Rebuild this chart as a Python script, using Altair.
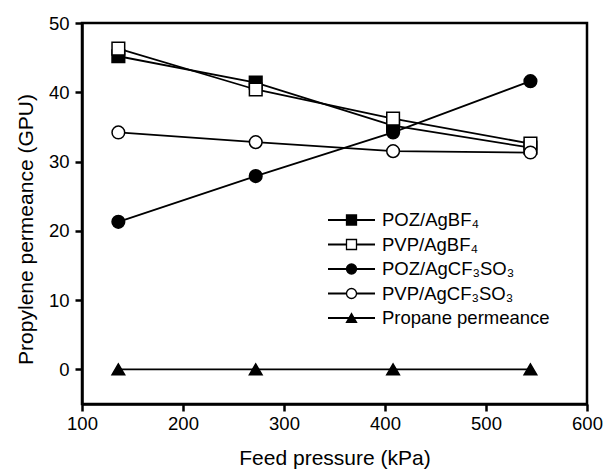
import altair as alt
import pandas as pd

# ---- data ----
pressure = [136, 272, 408, 544]
series_names = ["POZ/AgBF₄", "PVP/AgBF₄", "POZ/AgCF₃SO₃", "PVP/AgCF₃SO₃", "Propane permeance"]
poz_bf4 = [45.2, 41.4, 35.2, 32.0]
pvp_bf4 = [46.3, 40.4, 36.2, 32.6]
poz_cf3so3 = [21.3, 27.9, 34.2, 41.6]
pvp_cf3so3 = [34.2, 32.8, 31.5, 31.3]
propane = [0.0, 0.0, 0.0, 0.0]
x_ticks = [100, 200, 300, 400, 500, 600]
y_ticks = [0, 10, 20, 30, 40, 50]

shapes = ["square", "square", "circle", "circle", "triangle-up"]
fills = ["black", "white", "black", "white", "black"]

values = [poz_bf4, pvp_bf4, poz_cf3so3, pvp_cf3so3, propane]
rows = []
for name, vals in zip(series_names, values):
    for p, v in zip(pressure, vals):
        rows.append({"series": name, "pressure": p, "perm": v})
df = pd.DataFrame(rows)

FONT = "Liberation Sans"

common_axis = dict(grid=False, tickSize=7, domainWidth=2.5, tickWidth=2.5,
                   domainColor="black", tickColor="black",
                   labelFontSize=18.5, titleFontSize=21, labelFont=FONT, titleFont=FONT,
                   labelColor="black", titleColor="black", titleFontWeight="normal",
                   labelFlush=False)

x_enc = alt.X("pressure:Q", scale=alt.Scale(domain=[100, 600], nice=False),
              axis=alt.Axis(values=x_ticks, title="Feed pressure (kPa)",
                            labelPadding=3, titlePadding=15, **common_axis))
y_enc = alt.Y("perm:Q", scale=alt.Scale(domain=[-5, 50], nice=False, zero=False),
              axis=alt.Axis(values=y_ticks, title="Propylene permeance (GPU)",
                            labelPadding=6, titlePadding=12, titleY=206, **common_axis))

base = alt.Chart(df)

lines = base.mark_line(color="black", strokeWidth=1.8).encode(
    x=x_enc, y=y_enc, detail="series:N", order="pressure:Q")

points = base.mark_point(size=160, stroke="black", strokeWidth=1.5, opacity=1).encode(
    x=x_enc, y=y_enc,
    shape=alt.Shape("series:N", scale=alt.Scale(domain=series_names, range=shapes), legend=None),
    fill=alt.Fill("series:N", scale=alt.Scale(domain=series_names, range=fills), legend=None),
)

layers = [lines, points]

# ---- manual legend (pixel positions inside the plot area) ----
one = pd.DataFrame({"k": [0]})
leg_y0, leg_dy = 197, 24.5
for i, (name, shp, fl) in enumerate(zip(series_names, shapes, fills)):
    yy = leg_y0 + i * leg_dy
    layers.append(alt.Chart(one).mark_rule(color="black", strokeWidth=1.8).encode(
        x=alt.value(246), x2=alt.value(293), y=alt.value(yy)))
    layers.append(alt.Chart(one).mark_point(shape=shp, size=100, fill=fl, stroke="black",
                                            strokeWidth=1.3, opacity=1).encode(
        x=alt.value(269.5), y=alt.value(yy)))
    layers.append(alt.Chart(one).mark_text(text=name, align="left", baseline="middle",
                                           font=FONT, fontSize=18.5, color="black").encode(
        x=alt.value(300), y=alt.value(yy)))

chart = alt.layer(*layers).properties(
    width=505, height=381,
    autosize=alt.AutoSizeParams(type="none"),
    padding={"left": 82, "top": 23, "right": 16, "bottom": 67},
    background="white",
).configure_view(stroke="black", strokeWidth=2.5)

chart.save("out.html", embed_options={"renderer": "svg", "actions": False})
